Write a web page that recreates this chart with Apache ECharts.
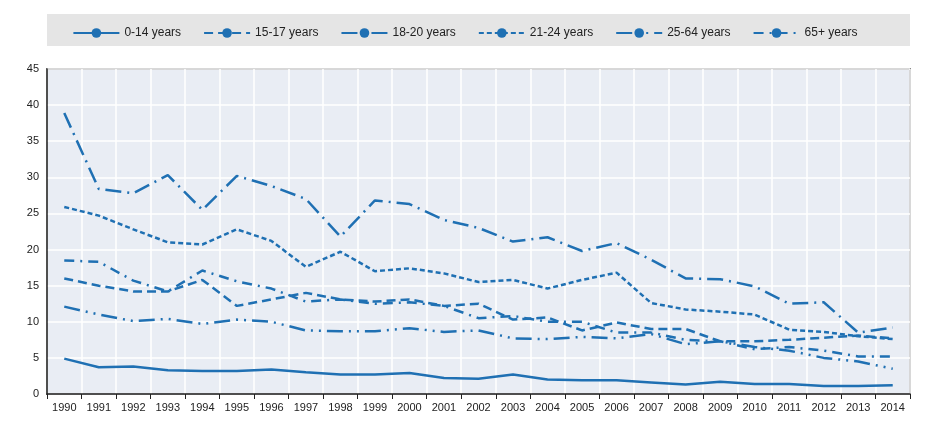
<!DOCTYPE html>
<html><head><meta charset="utf-8">
<script src="https://cdn.jsdelivr.net/npm/echarts@6/dist/echarts.min.js"></script>
<style>html,body{margin:0;background:#fff}#c{width:930px;height:427px}</style>
</head><body><div id="c"></div>
<script>
const years = ['1990','1991','1992','1993','1994','1995','1996','1997','1998','1999','2000','2001','2002','2003','2004','2005','2006','2007','2008','2009','2010','2011','2012','2013','2014']
const age0_14 = [4.9,3.7,3.8,3.3,3.2,3.2,3.4,3.0,2.7,2.7,2.9,2.2,2.1,2.7,2.0,1.9,1.9,1.6,1.3,1.7,1.4,1.4,1.1,1.1,1.2]
const age15_17 = [16.0,15.0,14.2,14.2,15.8,12.2,13.1,14.0,13.1,12.8,13.1,12.2,12.5,10.3,10.6,8.8,9.9,9.0,9.0,7.3,7.3,7.5,7.8,8.1,7.7]
const age18_20 = [38.9,28.4,27.8,30.3,25.5,30.2,28.8,27.0,21.8,26.8,26.3,24.1,23.0,21.1,21.7,19.8,20.9,18.6,16.0,15.9,14.9,12.5,12.7,8.5,9.2]
const age21_24 = [25.9,24.7,22.8,21.0,20.7,22.8,21.2,17.6,19.7,17.0,17.4,16.7,15.5,15.8,14.6,15.8,16.8,12.6,11.7,11.4,11.0,8.9,8.6,8.0,7.6]
const age25_64 = [12.1,11.0,10.1,10.4,9.7,10.3,10.0,8.8,8.7,8.7,9.1,8.6,8.8,7.7,7.6,7.9,7.7,8.3,6.9,7.3,6.5,6.0,5.0,4.5,3.5]
const age65 = [18.5,18.3,15.7,14.2,17.1,15.6,14.6,12.8,13.1,12.5,12.7,12.2,10.5,10.8,10.0,10.0,8.5,8.5,7.5,7.3,6.2,6.5,6.0,5.2,5.2]

const blue = '#1f70b3'
const mk = (name, data, type) => ({
  name, data, type: 'line', symbol: 'none',
  lineStyle: { color: blue, width: 2.5, type },
  itemStyle: { color: blue }
})

const chart = echarts.init(document.getElementById('c'))
chart.setOption({
  animation: false,
  graphic: [{ type: 'rect', silent: true, shape: { x: 47, y: 14, width: 863, height: 32 }, style: { fill: '#e5e5e5' }, z: -10 }],
  legend: {
    top: 22, left: 'center', itemWidth: 46, itemHeight: 12, itemGap: 22,
    textStyle: { fontFamily: 'Liberation Sans', fontSize: 12, color: '#222' }
  },
  grid: { left: 47, right: 20, top: 69, bottom: 33, backgroundColor: '#e9edf4', show: true, borderWidth: 1.5, borderColor: '#333' },
  xAxis: {
    type: 'category', data: years, boundaryGap: true,
    axisLine: { lineStyle: { color: '#222', width: 1.5 } },
    axisTick: { show: true, lineStyle: { color: '#222' } },
    splitLine: { show: true, interval: 0, lineStyle: { color: '#fff', width: 1.5 } },
    axisLabel: { interval: 0, color: '#222', fontFamily: 'Liberation Sans', fontSize: 11 }
  },
  yAxis: {
    type: 'value', min: 0, max: 45, interval: 5,
    axisLine: { show: true, lineStyle: { color: '#222', width: 1.5 } },
    splitLine: { lineStyle: { color: '#fff', width: 1.5 } },
    axisLabel: { color: '#222', fontFamily: 'Liberation Sans', fontSize: 11 }
  },
  series: [
    mk('0-14 years', age0_14, 'solid'),
    mk('15-17 years', age15_17, [9, 5]),
    mk('18-20 years', age18_20, [16, 6, 2, 6]),
    mk('21-24 years', age21_24, [5, 3]),
    mk('25-64 years', age25_64, [16, 6, 2, 6, 2, 6]),
    mk('65+ years', age65, [10, 6, 2, 6])
  ]
})
</script></body></html>
